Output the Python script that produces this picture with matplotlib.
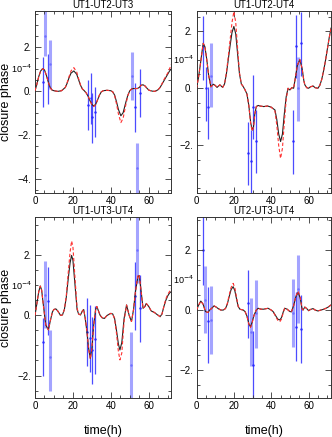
import matplotlib.pyplot as plt
from matplotlib.ticker import MultipleLocator, FuncFormatter
from matplotlib.transforms import blended_transform_factory

plt.rcParams.update({"font.size": 7, "font.family": ["Liberation Sans", "DejaVu Sans"]})

titles = ["UT1-UT2-UT3", "UT1-UT2-UT4", "UT1-UT3-UT4", "UT2-UT3-UT4"]

# model curves (units of 1e-4), black = model A, red dashed = model B
t1 = [0, 1, 2, 3, 4, 5, 6, 7, 8, 9, 10, 12, 14, 16, 17, 18, 19, 20.5, 22, 23, 24, 25, 26, 27, 28, 29, 30, 31,
      32, 33, 34, 35, 36, 38, 40, 41, 42, 43, 44, 45.3, 46.5, 48, 49, 50, 51, 52, 54, 55, 56, 57, 58, 59, 60,
      61, 62, 63, 64, 65, 66, 67, 68, 69, 70, 71, 72]
black1 = [0, 0.3, 0.65, 0.9, 1.0, 0.95, 0.7, 0.4, 0.15, 0.03, 0, -0.03, 0, 0.15, 0.35, 0.6, 0.8, 0.9, 0.75, 0.5,
          0.25, 0.08, 0, -0.1, -0.25, -0.45, -0.62, -0.7, -0.62, -0.42, -0.2, -0.05, 0, 0.02, 0, -0.05, -0.2,
          -0.5, -0.85, -1.14, -1.0, -0.5, -0.2, 0, 0.08, 0.1, 0.1, 0.15, 0.25, 0.27, 0.22, 0.12, 0.03, 0, -0.02,
          -0.03, 0, 0.05, 0.15, 0.3, 0.45, 0.6, 0.75, 0.9, 1.0]
red1 = [0, 0.3, 0.65, 0.9, 1.0, 0.95, 0.7, 0.4, 0.15, 0.03, 0, -0.03, 0, 0.15, 0.38, 0.65, 0.9, 1.05, 0.85, 0.55,
        0.27, 0.08, 0, -0.1, -0.25, -0.45, -0.63, -0.72, -0.63, -0.42, -0.2, -0.05, 0, 0.02, 0, -0.05, -0.22,
        -0.6, -1.05, -1.45, -1.25, -0.6, -0.22, 0, 0.08, 0.1, 0.1, 0.15, 0.25, 0.27, 0.22, 0.12, 0.03, 0, -0.02,
        -0.03, 0, 0.05, 0.15, 0.32, 0.5, 0.65, 0.8, 1.0, 1.2]

t2 = [0, 1, 2, 3, 3.6, 4.5, 5.5, 6.5, 7.7, 9, 10, 11, 12.5, 14, 15, 16, 17, 18, 19, 20, 21, 22, 23, 24, 25, 26,
      27, 28, 29, 29.8, 30.5, 31.2, 32, 33, 34, 36, 38, 40, 42, 43, 44, 45, 46, 47, 48, 49, 50, 51, 52, 53, 54,
      55.3, 56.5, 57.5, 58, 59, 60, 61, 62.4, 63.5, 65, 66, 67, 68, 69, 70, 71, 72]
black2 = [0, 0.35, 0.8, 1.3, 1.57, 1.45, 1.0, 0.45, 0.05, 0.14, 0.1, 0.03, 0.12, 0.03, 0.15, 0.5, 1.0, 1.5, 1.95,
          2.16, 1.9, 1.2, 0.5, 0.15, 0.06, -0.06, -0.2, -0.6, -1.2, -1.46, -1.35, -0.9, -0.64, -0.6, -0.62,
          -0.64, -0.62, -0.66, -0.76, -1.1, -1.6, -1.86, -1.6, -0.9, -0.3, 0, -0.06, 0.02, 0, 0.4, 0.8, 1.0,
          0.7, 0.25, 0.12, 0.02, 0, 0.05, 0.08, 0.02, 0, 0.1, 0.3, 0.6, 0.95, 1.35, 1.75, 2.1]
red2 = [0, 0.35, 0.8, 1.3, 1.57, 1.45, 1.0, 0.45, 0.05, 0.14, 0.1, 0.03, 0.12, 0.03, 0.15, 0.55, 1.1, 1.7, 2.3,
        2.68, 2.3, 1.4, 0.55, 0.15, 0.06, -0.06, -0.2, -0.6, -1.25, -1.5, -1.38, -0.9, -0.64, -0.6, -0.62,
        -0.64, -0.62, -0.66, -0.8, -1.3, -2.0, -2.45, -2.1, -1.2, -0.4, 0, -0.06, 0.02, 0, 0.4, 0.8, 1.0,
        0.7, 0.25, 0.12, 0.02, 0, 0.05, 0.08, 0.02, 0, 0.1, 0.3, 0.6, 0.95, 1.35, 1.75, 2.1]

t3 = [0, 1, 2, 2.8, 3.5, 4.5, 5.7, 7.1, 8, 9.2, 10, 11, 12, 13.5, 14.5, 15.5, 16.5, 17.5, 18.5, 19.3, 20, 21,
      22.2, 23, 24, 25, 25.7, 26.5, 27.4, 28.3, 29.2, 30, 31, 32, 32.6, 33.5, 34.4, 35.5, 36.6, 38, 40, 41, 42,
      43, 44, 44.8, 45.8, 47, 48.3, 49.7, 50.9, 52, 53, 54.3, 55, 56, 57, 58, 58.7, 60, 61.3, 63, 64, 66, 67,
      68, 69, 70, 71, 72]
black3 = [0, 0.4, 0.8, 0.98, 0.85, 0.3, -0.32, -0.48, -0.2, 0.12, 0.2, 0.22, 0.15, 0, 0.02, 0.2, 0.6, 1.2, 1.75,
          2.0, 1.85, 1.1, 0.2, 0.05, 0.02, 0.15, 0.2, -0.1, -0.54, -1.1, -1.43, -1.1, -0.3, 0.2, 0.3, 0.15, 0,
          -0.08, -0.1, 0, 0.07, 0.05, -0.1, -0.5, -0.95, -1.15, -0.9, -0.1, 0.35, 0, -0.2, 0.2, 0.8, 1.3, 1.33,
          0.8, 0.24, 0.3, 0.4, 0.3, 0.15, 0.1, 0.05, -0.04, 0.05, 0.3, 0.5, 0.65, 0.75, 0.8]
red3 = [0, 0.4, 0.8, 0.98, 0.85, 0.3, -0.32, -0.48, -0.2, 0.12, 0.2, 0.22, 0.15, 0, 0.02, 0.2, 0.65, 1.4, 2.1,
        2.48, 2.3, 1.35, 0.25, 0.05, 0.02, 0.15, 0.2, -0.1, -0.54, -1.12, -1.45, -1.1, -0.3, 0.2, 0.3, 0.15, 0,
        -0.08, -0.1, 0, 0.07, 0.05, -0.12, -0.6, -1.2, -1.48, -1.25, -0.2, 0.35, 0, -0.2, 0.2, 0.8, 1.35, 1.35,
        0.8, 0.24, 0.3, 0.4, 0.3, 0.15, 0.1, 0.05, -0.04, 0.05, 0.3, 0.55, 0.7, 0.8, 0.9]

t4 = [0, 1, 2.3, 3.5, 4.8, 6.2, 7, 8, 9.4, 10.5, 11.6, 13, 14.3, 15.5, 16.5, 17.5, 18.5, 19.6, 20.5, 21.5, 22.3,
      23.2, 25, 26, 27, 28, 28.9, 29.8, 30.8, 32, 33, 34.5, 36, 38.3, 40, 41, 42, 43.5, 44.6, 45.5, 46.5, 47.2,
      48.5, 50, 50.8, 52, 53.2, 54.4, 55.5, 56.5, 57, 58, 59, 60, 61, 62.4, 63.5, 65, 66.5, 67.7, 69, 70.5, 72]
black4 = [0, 0.15, 0.3, 0.2, -0.05, -0.08, 0, 0.05, 0.14, 0.1, 0.05, 0, 0, 0.05, 0.2, 0.45, 0.68, 0.78, 0.65,
          0.35, 0.12, 0.03, 0, -0.05, -0.2, -0.45, -0.56, -0.4, -0.17, 0, 0.06, 0.03, 0.03, 0.06, 0, -0.05,
          -0.15, -0.3, -0.33, -0.25, -0.05, 0.06, 0.03, -0.05, -0.06, 0.15, 0.45, 0.59, 0.4, 0.05, 0, 0.1,
          0.05, -0.02, 0.02, 0.05, 0, -0.03, 0, 0.02, 0.05, 0.1, 0.17]
red4 = [0, 0.15, 0.3, 0.2, -0.05, -0.08, 0, 0.05, 0.14, 0.1, 0.05, 0, 0, 0.05, 0.22, 0.5, 0.75, 0.89, 0.75,
        0.4, 0.13, 0.03, 0, -0.05, -0.2, -0.47, -0.58, -0.42, -0.17, 0, 0.06, 0.03, 0.03, 0.06, 0, -0.05,
        -0.17, -0.34, -0.39, -0.3, -0.07, 0.06, 0.03, -0.05, -0.06, 0.15, 0.47, 0.63, 0.43, 0.05, 0, 0.1,
        0.05, -0.02, 0.02, 0.05, 0, -0.03, 0, 0.02, 0.05, 0.1, 0.17]

# observed closure phases with errors; light = second instrument setting
obs_t1 = [4.0, 5.3, 6.6, 7.9, 27.7, 29.3, 30.3, 31.5, 51.0, 52.6, 54.0, 55.2]
obs_v1 = [0.41, 2.5, 0.58, 1.2, -0.65, -0.35, -1.2, -0.95, 0.67, -0.73, -3.53, -0.1]
obs_lo1 = [-0.76, 1.6, -0.6, 0.06, -1.79, -1.5, -2.36, -2.09, -0.42, -1.87, -4.7, -1.2]
obs_hi1 = [1.52, 3.7, 1.67, 2.3, 0.48, 0.8, -0.12, 0.15, 1.77, 0.33, -2.4, 1.0]
obs_light1 = [False, True, False, True, False, False, False, False, True, False, True, False]

obs_t2 = [3.6, 5.0, 6.2, 7.7, 27.6, 29.0, 30.3, 31.7, 51.7, 53.1, 54.4, 55.8]
obs_v2 = [1.46, 0, -0.66, 0.43, -2.25, -2.53, -0.66, -1.86, -1.86, 1.46, 0, 1.57]
obs_lo2 = [0.29, -1.13, -1.78, -0.66, -3.38, -3.7, -1.78, -2.97, -3.0, 0.35, -1.13, 0.43]
obs_hi2 = [2.53, 0.76, 0.06, 1.57, -1.17, -1.46, 0.47, -0.76, -0.76, 2.56, 1.1, 2.68]
obs_light2 = [False, False, False, True, False, False, False, False, False, False, True, False]

obs_t3 = [4.0, 5.2, 6.6, 7.8, 27.4, 28.8, 30.0, 31.4, 50.9, 52.6, 53.8, 55.2]
obs_v3 = [-0.9, 0.68, 0.48, -1.37, -0.54, -0.76, -1.15, -0.8, -1.65, 0.65, 2.18, 0.24]
obs_lo3 = [-2.02, -0.43, -0.65, -2.5, -1.67, -1.88, -2.27, -1.94, -2.8, -0.48, 1.07, -0.87]
obs_hi3 = [-0.1, 1.8, 1.6, -0.48, 0.57, 0.35, -0.04, 0.33, -0.54, 1.77, 3.3, 1.35]
obs_light3 = [False, True, False, True, False, False, False, False, True, False, True, False]

obs_t4 = [3.6, 4.8, 6.2, 7.5, 27.6, 29.1, 30.3, 31.7, 51.7, 53.1, 54.4, 55.8]
obs_v4 = [2.0, 0.33, -0.37, -0.33, 0.22, -0.72, -1.83, -0.11, -0.11, -0.56, 0.7, -0.64]
obs_lo4 = [0.83, -0.78, -1.76, -1.48, -0.92, -1.86, -3.0, -1.26, -1.22, -1.7, -0.44, -1.78]
obs_hi4 = [3.2, 1.48, 0.78, 0.81, 1.33, 0.41, -0.7, 1.0, 1.03, 0.59, 1.83, 0.5]
obs_light4 = [False, True, False, True, False, True, False, True, True, False, True, False]

curves = [(t1, black1, red1), (t2, black2, red2), (t3, black3, red3), (t4, black4, red4)]
obs = [(obs_t1, obs_v1, obs_lo1, obs_hi1, obs_light1),
       (obs_t2, obs_v2, obs_lo2, obs_hi2, obs_light2),
       (obs_t3, obs_v3, obs_lo3, obs_hi3, obs_light3),
       (obs_t4, obs_v4, obs_lo4, obs_hi4, obs_light4)]

ylims = [(-4.64, 3.64), (-3.65, 2.71), (-2.75, 3.28), (-2.93, 3.1)]
positions = [[0.1054, 0.559, 0.4111, 0.4165], [0.5919, 0.559, 0.4051, 0.4165],
             [0.1054, 0.0892, 0.4111, 0.4142], [0.5919, 0.0892, 0.4051, 0.4142]]


def fmt(v, pos):
    return ("%g." % v).replace("-", "\u2212")


fig = plt.figure(figsize=(3.32, 4.37), dpi=100)
for i in range(4):
    ax = fig.add_axes(positions[i])
    t, blk, red = curves[i]
    ot, ov, olo, ohi, olight = obs[i]
    for x, v, lo, hi, light in zip(ot, ov, olo, ohi, olight):
        if light:
            ax.plot([x, x], [lo, hi], color="#a4a4ff", lw=2.2, solid_capstyle="butt", zorder=1)
            ax.plot([x], [v], ".", color="#7070ff", ms=1.5, zorder=1)
        else:
            ax.plot([x, x], [lo, hi], color="#4c4cff", lw=0.9, solid_capstyle="butt", zorder=1)
            ax.plot([x], [v], ".", color="#2a2aff", ms=1.5, zorder=1)
    ax.plot(t, blk, color="#222222", lw=0.8, zorder=2)
    ax.plot(t, red, color="#ff3030", lw=0.8, ls=(0, (3, 2)), zorder=3)

    ax.set_xlim(0, 72)
    ax.set_ylim(*ylims[i])
    ax.xaxis.set_major_locator(MultipleLocator(20))
    ax.xaxis.set_minor_locator(MultipleLocator(5))
    ax.yaxis.set_major_locator(MultipleLocator(2))
    ax.yaxis.set_minor_locator(MultipleLocator(0.5))
    ax.yaxis.set_major_formatter(FuncFormatter(fmt))
    ax.tick_params(which="both", direction="in", top=True, right=True, width=0.6, colors="#333333",
                   labelcolor="black", pad=2.5)
    ax.tick_params(which="major", length=4)
    ax.tick_params(which="minor", length=2)
    for s in ax.spines.values():
        s.set_linewidth(0.7)
        s.set_color("#333333")
    ax.set_title(titles[i], fontsize=7, pad=2)
    tr = blended_transform_factory(ax.transAxes, ax.transData)
    ax.text(-0.02, 1.0, "10$^{-4}$", transform=tr, ha="right", va="center", fontsize=6.5)
    if i % 2 == 0:
        ax.set_ylabel("closure phase", fontsize=9)
        ax.yaxis.set_label_coords(-0.17, 0.5)
    if i >= 2:
        ax.set_xlabel("time(h)", fontsize=9, labelpad=10)

fig.savefig("out.png", dpi=100)
